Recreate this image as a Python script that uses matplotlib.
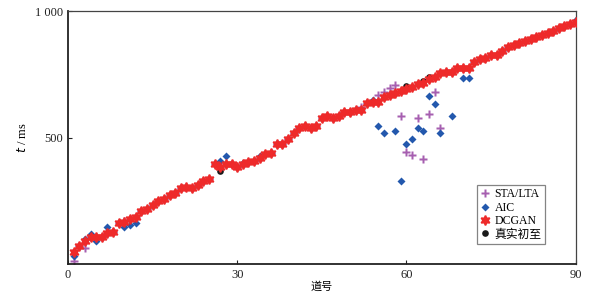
import numpy as np
import matplotlib
matplotlib.use("Agg")
import matplotlib.pyplot as plt

# channel numbers
channels = np.arange(1, 91)

# DCGAN picks (ms)
dcgan = [49, 72, 91, 105, 105, 105, 124, 128, 161, 167,
         177, 185, 209, 217, 234, 249, 256, 273, 282, 299,
         306, 299, 312, 328, 337, 394, 382, 394, 394, 385,
         394, 402, 408, 418, 435, 440, 473, 473, 494, 520,
         536, 545, 536, 545, 578, 585, 576, 585, 602, 602,
         609, 609, 635, 642, 642, 659, 668, 675, 684, 692,
         701, 711, 714, 730, 738, 754, 760, 760, 777, 777,
         777, 800, 809, 815, 826, 826, 842, 859, 866, 875,
         881, 889, 898, 905, 915, 923, 932, 941, 949, 958]

# true first arrivals: same as DCGAN except where they differ
true_diff = {27: 369, 56: 661, 60: 702, 63: 723, 64: 740}

# AIC picks that depart from the curve
aic_diff = {1: 32, 3: 98, 4: 117, 5: 91, 7: 145, 10: 147, 11: 154, 12: 163,
            27: 408, 28: 427, 31: 400, 34: 429, 54: 650, 55: 545, 56: 520,
            58: 527, 59: 329, 60: 473, 61: 495, 62: 536, 63: 527, 64: 664,
            65: 632, 66: 520, 68: 585, 70: 734, 71: 734, 90: 963}

# STA/LTA picks that depart from the curve
sta_diff = {1: 13, 3: 64, 10: 171, 52: 620, 55: 667, 56: 679, 57: 697,
            58: 706, 59: 585, 60: 441, 61: 432, 62: 576, 63: 416, 64: 593,
            65: 680, 66: 536}


def with_diff(base, diff):
    out = list(base)
    for ch, v in diff.items():
        out[ch - 1] = v
    return out


true_t = with_diff(dcgan, true_diff)
aic = with_diff(dcgan, aic_diff)
sta = with_diff(dcgan, sta_diff)

plt.rcParams['font.family'] = ['Liberation Serif', 'Noto Sans CJK SC']

fig = plt.figure(figsize=(5.96, 2.93), dpi=100)
ax = fig.add_axes([0.114, 0.099, 0.852, 0.863])

ax.plot(channels, sta, ls='none', marker='P', ms=6, color='#a65fb0',
        mec='none', label='STA/LTA')
ax.plot(channels, aic, ls='none', marker='D', ms=4.3, color='#2358ad',
        mec='none', label='AIC')
ax.plot(channels, true_t, ls='none', marker='o', ms=4.8, color='#1a1a1a',
        mec='none', label='真实初至', zorder=3)
ax.plot(channels, dcgan, ls='none', marker=(6, 1, 0), ms=7, color='#ee2a2a',
        mec='#ee2a2a', mew=1.2, label='DCGAN', zorder=4)

ax.set_xlim(0, 90)
ax.set_ylim(0, 1000)
ax.set_xticks([0, 30, 60, 90])
ax.set_yticks([500, 1000])
ax.set_yticklabels(['500', '1 000'])
ax.tick_params(direction='in', length=3, labelsize=9, colors='#222222')

for side in ['left', 'bottom']:
    ax.spines[side].set_linewidth(1.3)
    ax.spines[side].set_color('#222222')
for side in ['top', 'right']:
    ax.spines[side].set_linewidth(0.9)
    ax.spines[side].set_color('#444444')

ax.set_xlabel('道号', fontsize=8, family=['Noto Sans CJK SC'], labelpad=0)
ax.set_ylabel('$t$ / ms', fontsize=9, labelpad=4)

handles, labels = ax.get_legend_handles_labels()
order = [0, 1, 3, 2]
leg = ax.legend([handles[i] for i in order], [labels[i] for i in order],
                loc='lower right', bbox_to_anchor=(0.94, 0.079), borderaxespad=0,
                fancybox=False, edgecolor='#666666',
                handlelength=0.8, handletextpad=0.4, labelspacing=0.12,
                borderpad=0.3, prop={'family': ['Liberation Serif', 'Noto Sans CJK SC'],
                                     'size': 8.5})
leg.get_frame().set_linewidth(0.9)

fig.savefig('out.png', dpi=100)
